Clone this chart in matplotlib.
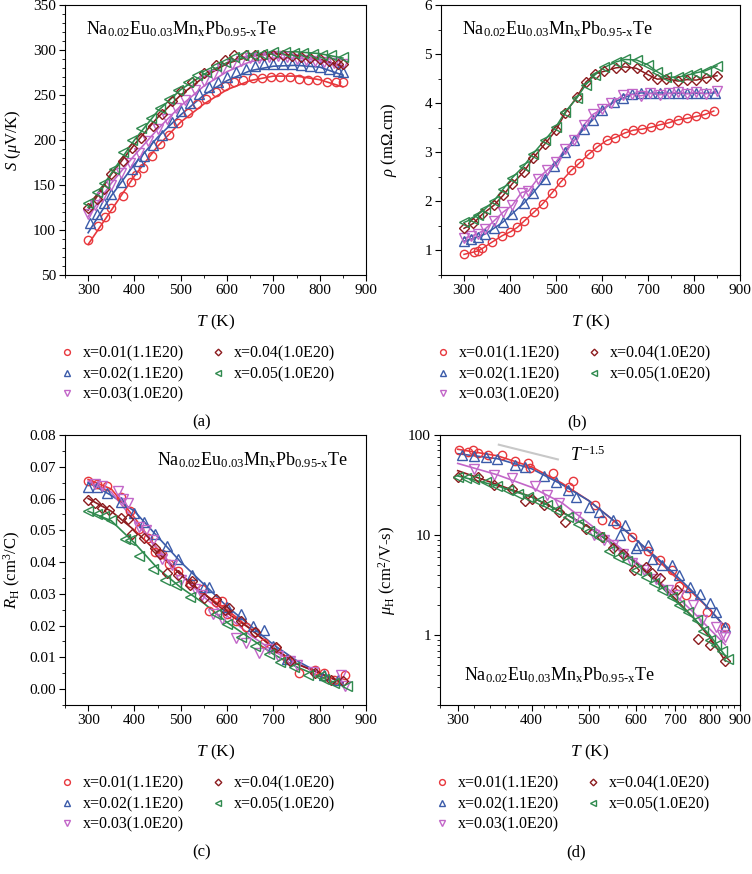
import matplotlib
matplotlib.use("Agg")
import matplotlib.pyplot as plt
import matplotlib.ticker as mticker
import numpy as np

plt.rcParams['font.family'] = ['Liberation Serif', 'DejaVu Serif']
plt.rcParams['mathtext.fontset'] = 'custom'
plt.rcParams['mathtext.rm'] = 'Liberation Serif'
plt.rcParams['mathtext.it'] = 'Liberation Serif:italic'
plt.rcParams['mathtext.bf'] = 'Liberation Serif:bold'

labels = ["x=0.01(1.1E20)", "x=0.02(1.1E20)", "x=0.03(1.0E20)",
          "x=0.04(1.0E20)", "x=0.05(1.0E20)"]
colors = ["#e8373c", "#3b5ba9", "#c266c8", "#8c1b1e", "#2f8a4e"]
markers = ["o", "^", "v", "D", "<"]
msizes = [6, 6.5, 6.5, 4.8, 6.5]

# ---- (a) Seebeck
Ta = [
    [300, 322, 336, 350, 375, 393, 404, 418, 437, 456, 475, 495, 515, 535, 555, 575, 595, 615, 635, 655, 675, 695, 715, 735, 755, 775, 795, 815, 835, 850],
    [305, 320, 335, 350, 370, 395, 410, 420, 440, 460, 480, 500, 520, 540, 560, 580, 600, 620, 640, 660, 680, 700, 720, 740, 760, 780, 800, 820, 840, 850],
    [300, 315, 330, 350, 370, 390, 410, 430, 450, 470, 490, 510, 530, 550, 570, 590, 610, 630, 650, 670, 690, 710, 730, 750, 770, 790, 810, 830, 850],
    [300, 320, 335, 350, 375, 395, 415, 440, 460, 480, 500, 525, 550, 575, 595, 615, 640, 660, 680, 700, 720, 740, 760, 780, 800, 820, 840, 850],
    [300, 320, 335, 355, 375, 395, 415, 435, 455, 475, 495, 515, 535, 555, 575, 595, 615, 635, 655, 675, 700, 725, 745, 765, 785, 805, 825, 850],
]
Sa = [
    [89, 105, 115, 125, 138, 153, 161, 169, 182, 196, 206, 219, 230, 240, 246, 253, 260, 264, 267, 269, 269, 270, 270, 270, 268, 267, 267, 265, 264, 264],
    [108, 118, 130, 140, 153, 168, 177, 182, 195, 206, 220, 232, 241, 251, 259, 265, 270, 276, 279, 282, 284, 284, 284, 284, 283, 282, 281, 279, 277, 276],
    [118, 128, 137, 150, 163, 175, 186, 199, 212, 223, 236, 245, 256, 266, 272, 279, 284, 288, 291, 291, 292, 293, 292, 290, 289, 288, 287, 286, 284],
    [124, 135, 146, 162, 177, 191, 202, 216, 229, 243, 254, 264, 275, 283, 289, 294, 294, 295, 294, 295, 294, 293, 292, 291, 290, 288, 285, 285],
    [130, 142, 152, 168, 187, 200, 213, 225, 236, 246, 256, 264, 272, 276, 282, 287, 292, 294, 295, 296, 298, 298, 297, 297, 296, 295, 294, 292],
]
T_fit = [300, 350, 400, 450, 500, 550, 600, 650, 700, 750, 800, 850]
Sa_fit = [
    [84, 122, 160, 193, 220, 240, 256, 266, 271, 271, 267, 259],
    [97, 138, 173, 203, 228, 250, 266, 277, 282, 283, 281, 272],
    [115, 152, 183, 212, 238, 260, 276, 287, 291, 291, 288, 281],
    [122, 162, 195, 225, 250, 270, 285, 293, 296, 294, 290, 282],
    [125, 163, 200, 232, 256, 273, 286, 294, 298, 298, 296, 291],
]

# ---- (b) resistivity
Tb = [
    [300, 322, 330, 340, 361, 383, 401, 416, 431, 452, 471, 491, 510, 533, 551, 571, 590, 610, 629, 649, 668, 687, 707, 726, 745, 765, 785, 805, 824, 843],
    [300, 315, 330, 345, 365, 385, 405, 430, 450, 475, 495, 520, 540, 560, 580, 600, 625, 645, 665, 685, 705, 725, 745, 765, 785, 805, 825, 845],
    [300, 315, 330, 345, 365, 385, 405, 425, 440, 460, 480, 500, 520, 540, 560, 580, 600, 620, 645, 665, 685, 705, 725, 745, 765, 785, 805, 825, 850],
    [300, 320, 340, 365, 385, 405, 430, 450, 475, 500, 520, 545, 565, 585, 605, 630, 650, 675, 700, 720, 740, 765, 785, 805, 825, 850],
    [300, 320, 330, 345, 365, 385, 405, 430, 450, 475, 500, 520, 545, 565, 585, 605, 630, 650, 675, 700, 720, 740, 765, 785, 805, 825, 850],
]
rho = [
    [0.92, 0.97, 0.99, 1.04, 1.17, 1.30, 1.38, 1.47, 1.60, 1.78, 1.95, 2.17, 2.39, 2.63, 2.78, 2.96, 3.11, 3.24, 3.30, 3.39, 3.45, 3.47, 3.51, 3.56, 3.60, 3.66, 3.69, 3.73, 3.77, 3.84],
    [1.19, 1.23, 1.28, 1.33, 1.45, 1.58, 1.75, 1.96, 2.17, 2.45, 2.72, 3.00, 3.25, 3.47, 3.66, 3.86, 4.02, 4.10, 4.18, 4.21, 4.20, 4.21, 4.20, 4.20, 4.20, 4.20, 4.20, 4.21],
    [1.25, 1.29, 1.34, 1.43, 1.60, 1.78, 1.92, 2.18, 2.21, 2.46, 2.63, 2.80, 3.07, 3.24, 3.55, 3.77, 3.88, 4.00, 4.16, 4.18, 4.15, 4.20, 4.17, 4.20, 4.22, 4.19, 4.22, 4.19, 4.24],
    [1.45, 1.55, 1.74, 1.92, 2.12, 2.36, 2.60, 2.88, 3.16, 3.45, 3.80, 4.12, 4.43, 4.60, 4.65, 4.72, 4.74, 4.71, 4.58, 4.49, 4.50, 4.45, 4.48, 4.47, 4.52, 4.56],
    [1.57, 1.65, 1.73, 1.84, 2.01, 2.25, 2.48, 2.72, 2.97, 3.24, 3.52, 3.82, 4.10, 4.38, 4.58, 4.73, 4.84, 4.89, 4.88, 4.78, 4.64, 4.53, 4.53, 4.57, 4.62, 4.66, 4.76],
]

# ---- (c) Hall coefficient
Tc = [
    [300, 320, 340, 370, 390, 410, 430, 445, 460, 475, 495, 520, 545, 560, 575, 590, 600, 620, 640, 660, 680, 705, 730, 755, 790, 810, 830, 855],
    [300, 320, 340, 370, 400, 420, 445, 470, 495, 525, 550, 560, 600, 630, 655, 680, 700, 730, 810, 840],
    [315, 330, 365, 375, 385, 410, 425, 440, 460, 480, 500, 530, 545, 570, 590, 620, 640, 670, 690, 710, 735, 750, 785, 845, 855],
    [300, 315, 330, 345, 370, 385, 395, 420, 445, 455, 470, 495, 520, 525, 550, 575, 595, 605, 630, 660, 705, 735, 790, 825, 850],
    [300, 320, 335, 350, 380, 390, 410, 440, 465, 490, 520, 575, 600, 630, 660, 690, 715, 745, 775, 800, 810, 830, 860],
]
RH = [
    [0.0655, 0.0645, 0.0640, 0.0605, 0.0562, 0.0505, 0.0475, 0.0432, 0.0425, 0.0395, 0.0372, 0.0335, 0.0315, 0.0245, 0.0275, 0.0277, 0.0235, 0.0215, 0.0195, 0.0180, 0.0145, 0.0130, 0.0095, 0.0050, 0.0060, 0.0050, 0.0030, 0.0043],
    [0.0635, 0.0635, 0.0618, 0.0590, 0.0555, 0.0525, 0.0488, 0.0450, 0.0410, 0.0358, 0.0320, 0.0320, 0.0260, 0.0235, 0.0200, 0.0185, 0.0135, 0.0095, 0.0045, 0.0030],
    [0.0645, 0.0638, 0.0625, 0.0600, 0.0585, 0.0510, 0.0500, 0.0470, 0.0410, 0.0390, 0.0345, 0.0315, 0.0295, 0.0237, 0.0220, 0.0160, 0.0145, 0.0115, 0.0125, 0.0105, 0.0090, 0.0075, 0.0055, 0.0045, 0.0010],
    [0.0595, 0.0585, 0.0570, 0.0565, 0.0540, 0.0535, 0.0487, 0.0475, 0.0445, 0.0425, 0.0365, 0.0360, 0.0328, 0.0340, 0.0287, 0.0283, 0.0250, 0.0255, 0.0215, 0.0180, 0.0132, 0.0090, 0.0050, 0.0030, 0.0025],
    [0.0562, 0.0552, 0.0545, 0.0532, 0.0473, 0.0470, 0.0418, 0.0378, 0.0343, 0.0328, 0.0290, 0.0235, 0.0205, 0.0165, 0.0135, 0.0110, 0.0085, 0.0070, 0.0045, 0.0040, 0.0032, 0.0020, 0.0010],
]
RH_fit = [
    [0.066, 0.063, 0.054, 0.044, 0.036, 0.030, 0.025, 0.019, 0.013, 0.008, 0.005, 0.002],
    [0.065, 0.061, 0.056, 0.048, 0.040, 0.033, 0.026, 0.020, 0.014, 0.009, 0.005, 0.002],
    [0.0655, 0.062, 0.053, 0.044, 0.036, 0.029, 0.023, 0.017, 0.012, 0.008, 0.005, 0.002],
    [0.060, 0.056, 0.050, 0.043, 0.036, 0.030, 0.024, 0.019, 0.013, 0.008, 0.005, 0.002],
    [0.056, 0.053, 0.046, 0.038, 0.032, 0.027, 0.021, 0.016, 0.011, 0.007, 0.004, 0.001],
]

# ---- (d) Hall mobility
Td = [
    [302, 312, 318, 324, 337, 356, 375, 395, 398, 434, 462, 470, 512, 525, 555, 590, 630, 660, 690, 710, 730, 790, 850],
    [305, 320, 335, 350, 375, 390, 420, 440, 460, 475, 500, 520, 550, 565, 575, 600, 605, 630, 640, 665, 690, 710, 740, 770, 800, 820, 850],
    [320, 345, 370, 405, 425, 445, 475, 510, 530, 550, 570, 590, 620, 650, 680, 710, 750, 775, 820, 840, 850],
    [300, 325, 345, 370, 390, 400, 420, 445, 455, 495, 525, 550, 570, 595, 625, 640, 660, 705, 765, 800, 850],
    [300, 310, 320, 335, 350, 365, 380, 395, 410, 425, 440, 460, 480, 500, 520, 540, 560, 580, 600, 625, 645, 665, 690, 710, 735, 760, 780, 800, 820, 840, 860],
]
mu = [
    [70, 68, 70, 66, 63, 63, 55, 52, 47, 42, 30, 35, 20, 14, 13, 9.5, 7, 5.6, 4.5, 3.1, 2.5, 1.7, 1.2],
    [63, 61, 60, 57, 50, 48, 39, 34, 28, 24, 19, 17, 14, 10, 12.5, 7.5, 8, 8, 5.8, 5, 5, 4, 3, 2.6, 2.1, 1.7, 1.2],
    [46, 40, 37, 31, 25, 21, 15, 10, 9, 8, 6.5, 5.2, 4.5, 3.6, 2.8, 2.5, 2.0, 1.4, 1.2, 1.0, 0.95],
    [38, 38, 32, 29, 22, 23, 20, 17, 13.5, 11.5, 9.5, 7.5, 6.5, 4.5, 4.8, 4.2, 3.7, 2.8, 0.92, 0.8, 0.55],
    [38, 37, 36, 34, 31, 28, 26, 24, 22, 20, 18, 15, 13, 11, 9.5, 7, 6, 5.5, 4.5, 3.8, 3.3, 2.8, 2.4, 2.0, 1.7, 1.4, 1.1, 0.9, 0.8, 0.7, 0.58],
]
mu_fit = [
    [72, 62, 48, 33, 22, 14, 9, 5.8, 3.8, 2.6, 1.8, 1.2],
    [65, 58, 46, 32, 22, 14, 9, 6, 4, 2.7, 1.8, 1.2],
    [52, 40, 30, 21, 13, 8.5, 5.5, 3.6, 2.5, 1.7, 1.15, 0.8],
    [44, 32, 24, 17, 12, 8, 5.3, 3.5, 2.3, 1.5, 0.95, 0.55],
    [39, 31, 24, 17, 12, 8, 5.2, 3.4, 2.2, 1.5, 1.0, 0.62],
]
T_ref = [352, 443]
mu_ref = [80, 57]

formula = r'$\mathrm{Na_{0.02}Eu_{0.03}Mn_{x}Pb_{0.95\text{-}x}Te}$'

fig = plt.figure(figsize=(7.52, 8.74), dpi=100)
W, H = 752, 874


def make_ax(l, t, r, b):
    return fig.add_axes([l / W, 1 - b / H, (r - l) / W, (b - t) / H])


ax_a = make_ax(65, 5, 366, 275)
ax_b = make_ax(441, 5, 740, 275)
ax_c = make_ax(65, 435, 366, 705)
ax_d = make_ax(440, 435, 740, 705)


def draw(ax, Ts, Ys, fits=None, connect=False):
    for i in range(5):
        if fits is not None:
            ax.plot(T_fit, fits[i], color=colors[i], lw=1.2, zorder=2)
        if connect:
            ax.plot(Ts[i], Ys[i], color=colors[i], lw=1.1, zorder=2)
        ax.plot(Ts[i], Ys[i], linestyle='none', marker=markers[i], ms=msizes[i],
                mfc='none', mec=colors[i], mew=1.0, label=labels[i], zorder=3)


draw(ax_a, Ta, Sa, fits=Sa_fit)
draw(ax_b, Tb, rho, connect=True)
draw(ax_c, Tc, RH, fits=RH_fit)
draw(ax_d, Td, mu, fits=mu_fit)
ax_d.plot(T_ref, mu_ref, color='#c8c8c8', lw=1.5, zorder=1)
ax_d.text(464, 63, r'$T^{-1.5}$', fontsize=13, va='center', ha='left')

for ax in [ax_a, ax_b, ax_c]:
    ax.set_xlim(250, 900)
    ax.xaxis.set_major_locator(mticker.MultipleLocator(100))
    ax.xaxis.set_minor_locator(mticker.MultipleLocator(50))

ax_a.set_ylim(50, 350)
ax_a.yaxis.set_major_locator(mticker.MultipleLocator(50))
ax_a.yaxis.set_minor_locator(mticker.MultipleLocator(10))
ax_b.set_ylim(0.5, 6)
ax_b.yaxis.set_major_locator(mticker.MultipleLocator(1))
ax_b.yaxis.set_minor_locator(mticker.MultipleLocator(0.5))
ax_c.set_ylim(-0.005, 0.08)
ax_c.yaxis.set_major_locator(mticker.MultipleLocator(0.01))
ax_c.yaxis.set_minor_locator(mticker.MultipleLocator(0.005))
ax_c.yaxis.set_major_formatter(mticker.FormatStrFormatter('%.2f'))

ax_d.set_xscale('log')
ax_d.set_yscale('log')
ax_d.set_xlim(280, 900)
ax_d.set_ylim(0.2, 100)
ax_d.xaxis.set_major_locator(mticker.FixedLocator([300, 400, 500, 600, 700, 800, 900]))
ax_d.xaxis.set_major_formatter(mticker.FormatStrFormatter('%d'))
ax_d.xaxis.set_minor_locator(mticker.FixedLocator(np.arange(280, 901, 20)))
ax_d.xaxis.set_minor_formatter(mticker.NullFormatter())
ax_d.yaxis.set_major_locator(mticker.FixedLocator([1, 10, 100]))
ax_d.yaxis.set_major_formatter(mticker.FormatStrFormatter('%g'))
ax_d.yaxis.set_minor_formatter(mticker.NullFormatter())

ax_a.set_ylabel(r'$S$ ($\mu$V/K)', fontsize=12)
ax_b.set_ylabel(r'$\rho$ (m$\Omega$.cm)', fontsize=12)
ax_c.set_ylabel(r'$R_{\mathrm{H}}$ (cm$^3$/C)', fontsize=12)
ax_d.set_ylabel(r'$\mu_{\mathrm{H}}$ (cm$^2$/V-s)', fontsize=12)

ax_a.text(0.07, 0.91, formula, transform=ax_a.transAxes, fontsize=13, va='center')
ax_b.text(0.07, 0.91, formula, transform=ax_b.transAxes, fontsize=13, va='center')
ax_c.text(0.305, 0.905, formula, transform=ax_c.transAxes, fontsize=13, va='center')
ax_d.text(0.079, 0.11, formula, transform=ax_d.transAxes, fontsize=13, va='center')

for ax, tag in zip([ax_a, ax_b, ax_c, ax_d], ['(a)', '(b)', '(c)', '(d)']):
    ax.tick_params(which='major', direction='out', length=4.5, width=0.8, labelsize=11, pad=2,
                   top=False, right=False)
    ax.tick_params(which='minor', direction='out', length=2.5, width=0.6, top=False, right=False)
    for s in ax.spines.values():
        s.set_linewidth(0.8)
    ax.set_xlabel(r'$T$ (K)', fontsize=12.5)
    ax.xaxis.set_label_coords(0.5, -0.14)
    ax.yaxis.set_label_coords(-0.14, 0.5)
    ax.legend(loc='upper left', bbox_to_anchor=(-0.02, -0.262), ncol=2, frameon=False,
              fontsize=11.5, handlelength=1.0, handletextpad=0.5, columnspacing=1.6,
              labelspacing=0.28, borderpad=0, borderaxespad=0, markerscale=0.7)
    ax.text(0.455, -0.545, tag, transform=ax.transAxes, fontsize=12, ha='center', va='center')

fig.savefig('out.png', dpi=100)
